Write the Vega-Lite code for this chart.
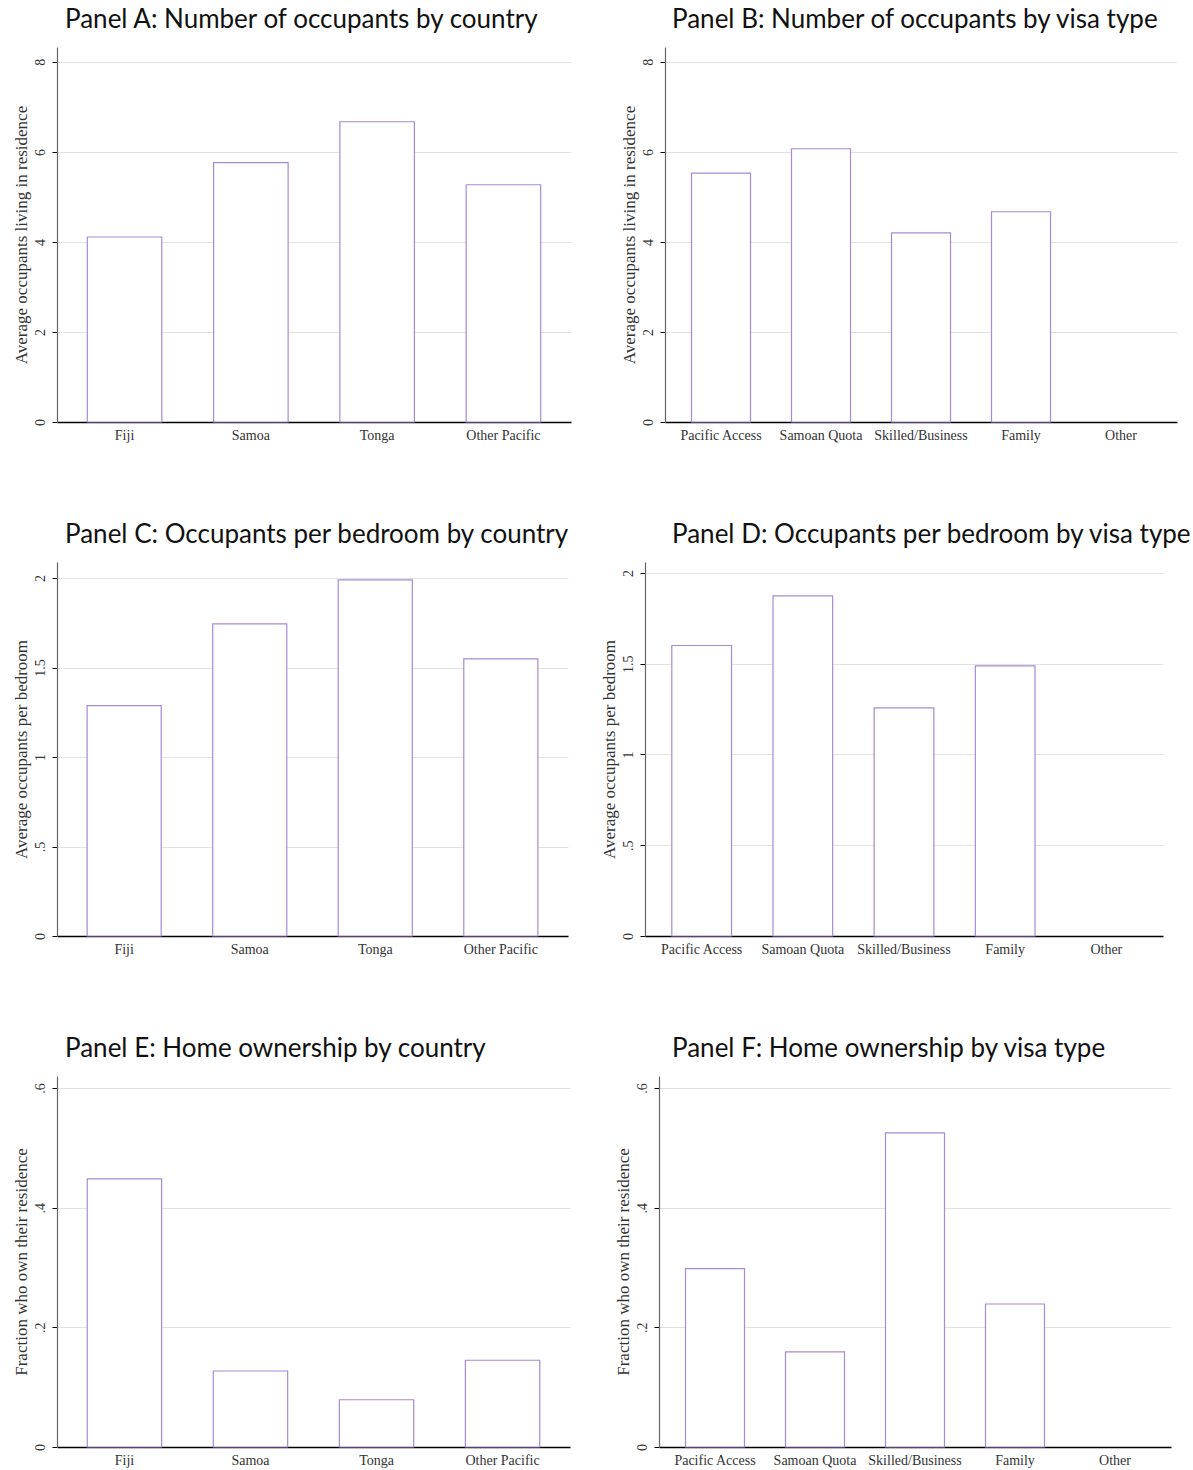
{
  "$schema": "https://vega.github.io/schema/vega-lite/v6.json",
  "background": "white",
  "padding": {"left": 12, "top": 7, "right": 5, "bottom": 5},
  "config": {
    "view": {"stroke": null},
    "font": "Liberation Serif",
    "title": {"font": "Lato", "fontSize": 26, "fontWeight": "normal", "color": "#111", "anchor": "start", "frame": "group", "offset": 14},
    "axis": {"labelFont": "Liberation Serif", "titleFont": "Liberation Serif", "labelFontSize": 14, "titleFontSize": 17, "titleFontWeight": "normal", "labelColor": "#333", "titleColor": "#333"},
    "axisX": {"domainColor": "#000", "domainWidth": 1.5, "ticks": false, "grid": false, "labelAngle": 0, "labelPadding": 6},
    "axisY": {"domainColor": "#666", "domainWidth": 1.2, "tickColor": "#000", "tickSize": 5, "grid": true, "gridColor": "#e2e2e2", "labelAngle": -90, "labelPadding": 5, "titlePadding": 3, "labelExpr": "datum.value > 0 && datum.value < 1 ? substring(datum.label, 1) : datum.label"},
    "bar": {"fill": "white", "stroke": "#a68ad8", "strokeWidth": 1.2}
  },
  "spacing": 80,
  "vconcat": [
    {
      "spacing": 49,
      "hconcat": [
        {
          "title": {"text": "Panel A: Number of occupants by country", "dx": 8},
          "width": 514, "height": 375,
          "data": {"values": [
            {"country": "Fiji", "occupants": 4.11},
            {"country": "Samoa", "occupants": 5.76},
            {"country": "Tonga", "occupants": 6.67},
            {"country": "Other Pacific", "occupants": 5.27}
          ]},
          "mark": "bar",
          "encoding": {
            "x": {"field": "country", "type": "nominal", "sort": null, "title": null, "scale": {"domain": ["Fiji", "Samoa", "Tonga", "Other Pacific"], "paddingInner": 0.41, "paddingOuter": 0.24}},
            "y": {"field": "occupants", "type": "quantitative", "title": "Average occupants living in residence", "scale": {"domain": [0, 8.33], "nice": false}, "axis": {"values": [0, 2, 4, 6, 8], "format": ".2~f"}}
          }
        },
        {
          "title": {"text": "Panel B: Number of occupants by visa type", "dx": 7},
          "width": 512, "height": 375,
          "data": {"values": [
            {"visa": "Pacific Access", "occupants": 5.53},
            {"visa": "Samoan Quota", "occupants": 6.07},
            {"visa": "Skilled/Business", "occupants": 4.2},
            {"visa": "Family", "occupants": 4.67},
            {"visa": "Other", "occupants": null}
          ]},
          "mark": "bar",
          "encoding": {
            "x": {"field": "visa", "type": "nominal", "sort": null, "title": null, "scale": {"domain": ["Pacific Access", "Samoan Quota", "Skilled/Business", "Family", "Other"], "paddingInner": 0.41, "paddingOuter": 0.265}},
            "y": {"field": "occupants", "type": "quantitative", "title": "Average occupants living in residence", "scale": {"domain": [0, 8.33], "nice": false}, "axis": {"values": [0, 2, 4, 6, 8], "format": ".2~f"}}
          }
        }
      ]
    },
    {
      "spacing": 30,
      "hconcat": [
        {
          "title": {"text": "Panel C: Occupants per bedroom by country", "dx": 8},
          "width": 511, "height": 374,
          "data": {"values": [
            {"country": "Fiji", "perbed": 1.287},
            {"country": "Samoa", "perbed": 1.744},
            {"country": "Tonga", "perbed": 1.99},
            {"country": "Other Pacific", "perbed": 1.549}
          ]},
          "mark": "bar",
          "encoding": {
            "x": {"field": "country", "type": "nominal", "sort": null, "title": null, "scale": {"domain": ["Fiji", "Samoa", "Tonga", "Other Pacific"], "paddingInner": 0.41, "paddingOuter": 0.24}},
            "y": {"field": "perbed", "type": "quantitative", "title": "Average occupants per bedroom", "scale": {"domain": [0, 2.09], "nice": false}, "axis": {"values": [0, 0.5, 1, 1.5, 2], "format": ".2~f"}}
          }
        },
        {
          "title": {"text": "Panel D: Occupants per bedroom by visa type", "dx": 27},
          "width": 518, "height": 374,
          "data": {"values": [
            {"visa": "Pacific Access", "perbed": 1.6},
            {"visa": "Samoan Quota", "perbed": 1.873},
            {"visa": "Skilled/Business", "perbed": 1.256},
            {"visa": "Family", "perbed": 1.488},
            {"visa": "Other", "perbed": null}
          ]},
          "mark": "bar",
          "encoding": {
            "x": {"field": "visa", "type": "nominal", "sort": null, "title": null, "scale": {"domain": ["Pacific Access", "Samoan Quota", "Skilled/Business", "Family", "Other"], "paddingInner": 0.41, "paddingOuter": 0.265}},
            "y": {"field": "perbed", "type": "quantitative", "title": "Average occupants per bedroom", "scale": {"domain": [0, 2.06], "nice": false}, "axis": {"values": [0, 0.5, 1, 1.5, 2], "format": ".2~f"}}
          }
        }
      ]
    },
    {
      "spacing": 44,
      "hconcat": [
        {
          "title": {"text": "Panel E: Home ownership by country", "dx": 8},
          "width": 513, "height": 371,
          "data": {"values": [
            {"country": "Fiji", "own": 0.448},
            {"country": "Samoa", "own": 0.127},
            {"country": "Tonga", "own": 0.079},
            {"country": "Other Pacific", "own": 0.145}
          ]},
          "mark": "bar",
          "encoding": {
            "x": {"field": "country", "type": "nominal", "sort": null, "title": null, "scale": {"domain": ["Fiji", "Samoa", "Tonga", "Other Pacific"], "paddingInner": 0.41, "paddingOuter": 0.24}},
            "y": {"field": "own", "type": "quantitative", "title": "Fraction who own their residence", "scale": {"domain": [0, 0.62], "nice": false}, "axis": {"values": [0, 0.2, 0.4, 0.6], "format": ".2~f"}}
          }
        },
        {
          "title": {"text": "Panel F: Home ownership by visa type", "dx": 13},
          "width": 512, "height": 371,
          "data": {"values": [
            {"visa": "Pacific Access", "own": 0.298},
            {"visa": "Samoan Quota", "own": 0.159},
            {"visa": "Skilled/Business", "own": 0.525},
            {"visa": "Family", "own": 0.239},
            {"visa": "Other", "own": null}
          ]},
          "mark": "bar",
          "encoding": {
            "x": {"field": "visa", "type": "nominal", "sort": null, "title": null, "scale": {"domain": ["Pacific Access", "Samoan Quota", "Skilled/Business", "Family", "Other"], "paddingInner": 0.41, "paddingOuter": 0.265}},
            "y": {"field": "own", "type": "quantitative", "title": "Fraction who own their residence", "scale": {"domain": [0, 0.62], "nice": false}, "axis": {"values": [0, 0.2, 0.4, 0.6], "format": ".2~f"}}
          }
        }
      ]
    }
  ]
}
